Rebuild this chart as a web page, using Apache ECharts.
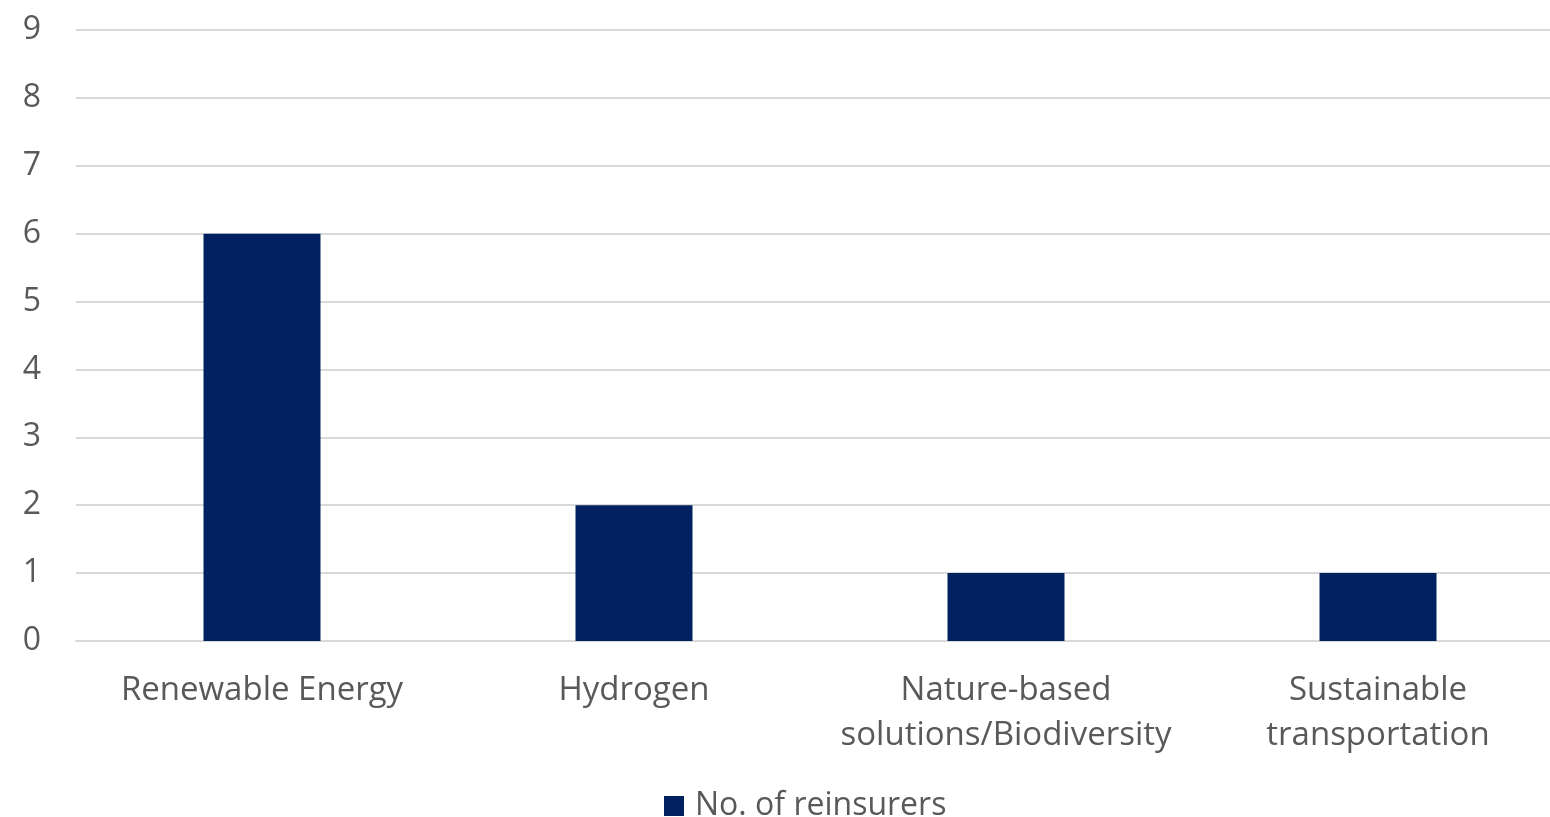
<!DOCTYPE html>
<html>
<head>
<meta charset="utf-8">
<style>
  html, body { margin: 0; padding: 0; background: #ffffff; }
  #chart { width: 1550px; height: 817px; }
</style>
<script src="https://cdn.jsdelivr.net/npm/echarts@6/dist/echarts.min.js"></script>
</head>
<body>
<div id="chart"></div>
<script>
// Sustainable insurance focus areas, counted by number of reinsurers
const categories = [
  'Renewable Energy',
  'Hydrogen',
  'Nature-based\nsolutions/Biodiversity',
  'Sustainable\ntransportation'
];
const reinsurers = [6, 2, 1, 1];
const seriesName = 'No. of reinsurers';
const yTicks = { min: 0, max: 9, interval: 1 };

const FONT = '"Open Sans", "Noto Sans", sans-serif';
const TEXT = '#595959';

const chart = echarts.init(document.getElementById('chart'), null, { renderer: 'canvas' });
chart.setOption({
  animation: false,
  backgroundColor: '#ffffff',
  textStyle: { fontFamily: FONT },
  // plot area runs slightly past the right edge of the canvas
  grid: {
    left: 76, width: 1488, top: 30, bottom: 176,
    containLabel: false,
    outerBoundsMode: 'none'
  },
  legend: {
    data: [seriesName],
    top: 785,
    left: 659,
    itemWidth: 20,
    itemHeight: 20,
    icon: 'rect',
    textStyle: { color: TEXT, fontSize: 32, fontFamily: FONT, padding: [0, 0, 0, 6] }
  },
  xAxis: {
    type: 'category',
    data: categories,
    axisLine: { show: true, lineStyle: { color: '#d9d9d9', width: 2 } },
    axisTick: { show: false },
    axisLabel: {
      color: TEXT,
      fontSize: 33,
      lineHeight: 45,
      margin: 27,
      interval: 0,
      fontFamily: FONT
    }
  },
  yAxis: {
    type: 'value',
    min: yTicks.min,
    max: yTicks.max,
    interval: yTicks.interval,
    axisLine: { show: false },
    axisTick: { show: false },
    splitLine: { lineStyle: { color: '#d9d9d9', width: 2 } },
    axisLabel: { color: TEXT, fontSize: 32, margin: 35, fontFamily: FONT }
  },
  series: [{
    name: seriesName,
    type: 'bar',
    data: reinsurers,
    barWidth: '31.45%',
    itemStyle: { color: '#002060' }
  }]
});
</script>
</body>
</html>
